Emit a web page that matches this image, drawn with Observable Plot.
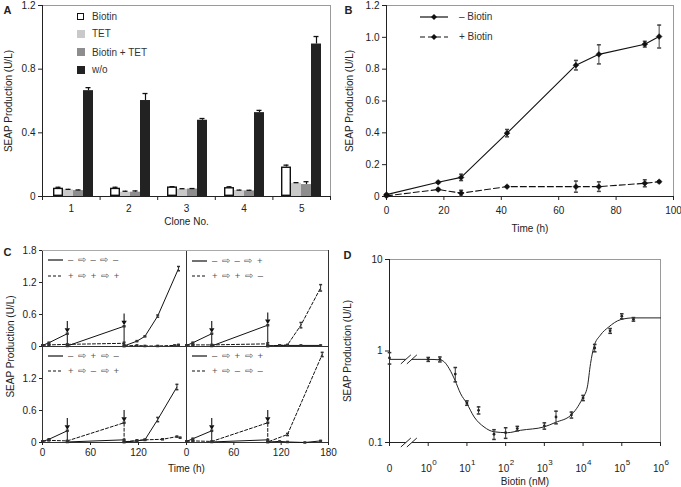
<!DOCTYPE html>
<html><head><meta charset="utf-8">
<script src="https://cdn.jsdelivr.net/npm/d3@7"></script>
<script src="https://cdn.jsdelivr.net/npm/@observablehq/plot@0.6"></script>
<style>
body{margin:0;background:#fff;}
#fig{position:relative;width:681px;height:487px;overflow:hidden;font-family:"Liberation Sans",Arial,Helvetica,sans-serif;font-size:10px;color:#222;background:#fff;}
.lg{position:absolute;white-space:pre;font-size:10px;line-height:12px;}
</style></head><body><div id="fig"></div><script>
// ================= DATA =================
// Panel A
const clones = ["1", "2", "3", "4", "5"];
const treatments = ["Biotin", "TET", "Biotin + TET", "w/o"];
const biotinVals = [0.052, 0.052, 0.060, 0.056, 0.185];
const biotinErr  = [0.006, 0.006, 0.002, 0.005, 0.012];
const tetVals    = [0.042, 0.027, 0.045, 0.037, 0.083];
const tetErr     = [0.003, 0.006, 0.004, 0.003, 0.004];
const bothVals   = [0.037, 0.027, 0.047, 0.035, 0.075];
const bothErr    = [0.004, 0.008, 0.003, 0.004, 0.018];
const woVals     = [0.665, 0.603, 0.479, 0.527, 0.958];
const woErr      = [0.019, 0.044, 0.011, 0.014, 0.047];
const yTicksA = [0, 0.4, 0.8, 1.2];

// Panel B
const timeB = [0, 18, 26, 42, 66, 74, 90, 95];
const minusBiotin    = [0.012, 0.089, 0.120, 0.398, 0.825, 0.893, 0.957, 1.005];
const minusBiotinErr = [0.004, 0.005, 0.020, 0.023, 0.030, 0.060, 0.018, 0.072];
const plusBiotin     = [0.004, 0.044, 0.021, 0.062, 0.062, 0.062, 0.083, 0.093];
const plusBiotinErr  = [0.004, 0.006, 0.018, 0.004, 0.035, 0.030, 0.022, 0.005];
const seriesB = ["– Biotin", "+ Biotin"];
const xTicksB = [0, 20, 40, 60, 80, 100];
const yTicksB = [0, 0.2, 0.4, 0.6, 0.8, 1.0, 1.2];

// Panel C (four switching schemes)
const xTicksC = [0, 60, 120, 180];
const yTicksC = [0, 0.6, 1.2, 1.8];
const tlSolidT = [0, 8, 31, 31, 102, 102, 118, 128, 144, 170];
const tlSolidV = [0.02, 0.07, 0.24, 0.01, 0.38, 0.01, 0.10, 0.19, 0.57, 1.46];
const tlSolidE = [0.01, 0.01, 0.01, 0.01, 0.01, 0.01, 0.01, 0.01, 0.02, 0.04];
const tlDashT  = [0, 8, 31, 102, 102, 118, 128, 144, 165, 170];
const tlDashV  = [0.02, 0.03, 0.04, 0.06, 0.01, 0.02, 0.01, 0.01, 0.02, 0.03];
const tlDashE  = [0.01, 0.01, 0.01, 0.02, 0.01, 0.01, 0.01, 0.01, 0.01, 0.01];
const trSolidT = [0, 8, 32, 32, 103, 103, 118, 128, 145, 170];
const trSolidV = [0.02, 0.07, 0.24, 0.01, 0.40, 0.01, 0.02, 0.02, 0.02, 0.02];
const trSolidE = [0.01, 0.01, 0.01, 0.01, 0.01, 0.01, 0.01, 0.01, 0.01, 0.01];
const trDashT  = [0, 8, 32, 103, 103, 118, 128, 145, 170];
const trDashV  = [0.02, 0.03, 0.03, 0.05, 0.01, 0.02, 0.03, 0.40, 1.10];
const trDashE  = [0.01, 0.01, 0.01, 0.02, 0.01, 0.01, 0.01, 0.05, 0.06];
const blSolidT = [0, 8, 31, 31, 102, 102, 118, 128, 144, 168];
const blSolidV = [0.02, 0.06, 0.22, 0.01, 0.05, 0.01, 0.03, 0.05, 0.43, 1.04];
const blSolidE = [0.01, 0.01, 0.01, 0.01, 0.01, 0.01, 0.01, 0.01, 0.04, 0.05];
const blDashT  = [0, 8, 31, 102, 102, 118, 128, 150, 168, 172];
const blDashV  = [0.02, 0.04, 0.03, 0.37, 0.01, 0.04, 0.05, 0.06, 0.11, 0.09];
const blDashE  = [0.01, 0.01, 0.01, 0.01, 0.01, 0.01, 0.01, 0.01, 0.01, 0.01];
const brSolidT = [0, 8, 32, 32, 103, 103, 118, 128, 150, 170];
const brSolidV = [0.02, 0.07, 0.22, 0.01, 0.05, 0.01, 0.02, 0.01, 0.00, 0.03];
const brSolidE = [0.01, 0.01, 0.01, 0.01, 0.01, 0.01, 0.01, 0.01, 0.01, 0.01];
const brDashT  = [0, 8, 32, 103, 103, 128, 172];
const brDashV  = [0.02, 0.03, 0.02, 0.37, 0.01, 0.15, 1.65];
const brDashE  = [0.01, 0.01, 0.01, 0.01, 0.01, 0.02, 0.04];
const arrowT_TL = [31, 102], arrowV_TL = [0.24, 0.38];
const arrowT_TR = [32, 103], arrowV_TR = [0.24, 0.40];
const arrowT_BL = [31, 102], arrowV_BL = [0.22, 0.37];
const arrowT_BR = [32, 103], arrowV_BR = [0.22, 0.37];
const legendC = {
  tl: ["– ⇨ – ⇨ –", "+ ⇨ + ⇨ +"],
  tr: ["– ⇨ – ⇨ +", "+ ⇨ + ⇨ –"],
  bl: ["– ⇨ + ⇨ –", "+ ⇨ – ⇨ +"],
  br: ["– ⇨ + ⇨ +", "+ ⇨ – ⇨ –"]
};

// Panel D
const biotinConc = [0, 1, 2, 5, 10, 20, 50, 100, 200, 1000, 2000, 5000, 10000, 20000, 50000, 100000, 200000];
const seapD      = [0.84, 0.81, 0.81, 0.56, 0.27, 0.225, 0.123, 0.128, 0.142, 0.152, 0.19, 0.20, 0.307, 1.08, 1.66, 2.40, 2.22];
const seapDErr   = [0.12, 0.04, 0.05, 0.10, 0.015, 0.02, 0.015, 0.017, 0.008, 0.012, 0.03, 0.015, 0.02, 0.10, 0.10, 0.15, 0.10];
const curveConc  = [0.1, 1, 2, 2.6, 3.5, 4.9, 6.9, 9.8, 15.4, 27.6, 50, 111, 245, 980, 1950, 4800, 9500, 12900, 15600, 19000, 28000, 46000, 93000, 200000, 1000000];
const curveSeap  = [0.81, 0.81, 0.80, 0.76, 0.64, 0.48, 0.34, 0.27, 0.19, 0.148, 0.131, 0.128, 0.136, 0.148, 0.166, 0.198, 0.30, 0.405, 0.73, 1.11, 1.49, 1.83, 2.2, 2.3, 2.3];
const xTicksD = [0.1, 1, 10, 100, 1e3, 1e4, 1e5, 1e6];
const xTickBaseD = ["0", "10", "10", "10", "10", "10", "10", "10"];
const xTickExpD  = ["", "0", "1", "2", "3", "4", "5", "6"];
const yTicksD = [0.1, 1, 10];
const yTickLabelsD = ["0.1", "1", "10"];

const yLabel = "SEAP Production (U/L)";

// ================= STYLE / HELPERS =================
const FONT = '"Liberation Sans", Arial, Helvetica, sans-serif';
const fig = document.getElementById("fig");
const baseStyle = {fontFamily: FONT, fontSize: "10px", color: "#222", background: "transparent", overflow: "visible"};
const colorsA = ["#ffffff", "#c9c9c9", "#8d8d8d", "#222222"];
const fmt1 = d => d === 0 ? "0" : d.toFixed(1);
function mount(el, left, top) {
  el.style.position = "absolute"; el.style.left = left + "px"; el.style.top = top + "px";
  fig.appendChild(el); return el;
}
function html(str, left, top, extra = "") {
  const d = document.createElement("div");
  d.className = "lg"; d.style.left = left + "px"; d.style.top = top + "px";
  d.style.cssText += extra; d.innerHTML = str; fig.appendChild(d); return d;
}
const capSym = w => ({draw(ctx) { ctx.moveTo(-w, 0); ctx.lineTo(w, 0); }});
const breakFill = {draw(ctx) { ctx.moveTo(-8, 4.5); ctx.lineTo(2, -4.5); ctx.lineTo(8, -4.5); ctx.lineTo(-2, 4.5); ctx.closePath(); }};
const breakLines = {draw(ctx) { ctx.moveTo(-8, 4.5); ctx.lineTo(2, -4.5); ctx.moveTo(-2, 4.5); ctx.lineTo(8, -4.5); }};
const label = (txt, opts) => Plot.text([txt], {text: d => d, fontFamily: FONT, fontSize: 10, fill: "#222", textAnchor: "middle", lineAnchor: "middle", ...opts});
const letter = (txt, opts) => label(txt, {frameAnchor: "top-left", textAnchor: "start", fontWeight: "bold", fontSize: 11, ...opts});

// ================= PANEL A =================
const valuesA = [biotinVals, tetVals, bothVals, woVals];
const errorsA = [biotinErr, tetErr, bothErr, woErr];
const rowsA = [];
clones.forEach((c, i) => treatments.forEach((t, k) => rowsA.push({clone: c, treatment: t, value: valuesA[k][i], err: errorsA[k][i]})));
const boxA = {width: 340, height: 232, marginLeft: 42, marginRight: 10, marginTop: 5, marginBottom: 36};

mount(Plot.plot({...boxA, style: baseStyle,
  fx: {domain: clones, padding: 0, axis: null},
  x: {domain: treatments, paddingInner: 0, paddingOuter: 2 / 3, axis: null},
  y: {domain: [0, 1.2], axis: null},
  color: {domain: treatments, range: colorsA},
  marks: [
    Plot.barY(rowsA, {fx: "clone", x: "treatment", y: "value", fill: "treatment"}),
    Plot.barY(rowsA.filter(d => d.treatment === treatments[0]), {fx: "clone", x: "treatment", y: "value", fill: "none", stroke: "#111", strokeWidth: 1.4, inset: 0.7}),
    Plot.ruleX(rowsA, {fx: "clone", x: "treatment", y1: "value", y2: d => d.value + d.err, stroke: "#111", strokeWidth: 1.2}),
    Plot.tickY(rowsA, {fx: "clone", x: "treatment", y: d => d.value + d.err, stroke: "#111", strokeWidth: 1.3, insetLeft: 2.5, insetRight: 2.5})
  ]
}), 0, 0);

mount(Plot.plot({...boxA, style: baseStyle,
  x: {domain: [0.5, clones.length + 0.5]},
  y: {domain: [0, 1.2]},
  marks: [
    Plot.frame({stroke: "#9a9a9a"}),
    Plot.axisY({ticks: yTicksA, tickSize: 4, tickPadding: 3, tickFormat: fmt1, label: null}),
    Plot.axisX({ticks: d3.range(0.5, clones.length + 1, 1), tickSize: 4, tickFormat: () => "", label: null}),
    Plot.axisX({ticks: clones.map((c, i) => i + 1), tickSize: 0, tickPadding: 8, tickFormat: d => clones[d - 1], label: null}),
    Plot.ruleX([0.5], {stroke: "#222"}),
    Plot.ruleY([0], {stroke: "#222"}),
    label(yLabel, {frameAnchor: "left", rotate: -90, dx: -34}),
    label("Clone No.", {frameAnchor: "bottom", dy: 25}),
    letter("A", {dx: -39, dy: 5})
  ]
}), 0, 0);

// legend A
const legYA = [17.3, 34.3, 52.7, 70.3];
treatments.forEach((t, k) => {
  const border = k === 0 ? "1.3px solid #111" : "none";
  html(`<span style="display:inline-block;width:${k === 0 ? 5.4 : 8}px;height:${k === 0 ? 5.4 : 8}px;background:${colorsA[k]};border:${border};"></span>`, 77, legYA[k] - 4.5, "line-height:8px;");
  html(t, 92, legYA[k] - 6, "color:#333;");
});

// ================= PANEL B =================
const rowsB = timeB.flatMap((t, i) => [
  {series: seriesB[0], t, v: minusBiotin[i], e: minusBiotinErr[i]},
  {series: seriesB[1], t, v: plusBiotin[i], e: plusBiotinErr[i]}
]);
mount(Plot.plot({width: 341, height: 232, marginLeft: 46, marginRight: 8, marginTop: 5, marginBottom: 36, style: baseStyle,
  x: {domain: [0, 100]},
  y: {domain: [0, 1.2]},
  marks: [
    Plot.frame({stroke: "#9a9a9a"}),
    Plot.axisY({ticks: yTicksB, tickSize: 4, tickPadding: 3, tickFormat: fmt1, label: null}),
    Plot.axisX({ticks: xTicksB, tickSize: 4, tickPadding: 6, tickFormat: d => String(d), label: null}),
    Plot.ruleX([0], {stroke: "#222"}),
    Plot.ruleY([0], {stroke: "#222"}),
    Plot.line(rowsB.filter(d => d.series === seriesB[0]), {x: "t", y: "v", stroke: "#111", strokeWidth: 1.1}),
    Plot.line(rowsB.filter(d => d.series === seriesB[1]), {x: "t", y: "v", stroke: "#111", strokeWidth: 1.1, strokeDasharray: "6,3"}),
    Plot.ruleX(rowsB, {x: "t", y1: d => d.v - d.e, y2: d => d.v + d.e, stroke: "#444"}),
    Plot.dot(rowsB, {x: "t", y: d => d.v + d.e, symbol: capSym(2), stroke: "#444", fill: "none"}),
    Plot.dot(rowsB, {x: "t", y: d => d.v - d.e, symbol: capSym(2), stroke: "#444", fill: "none"}),
    Plot.dot(rowsB, {x: "t", y: "v", symbol: "diamond2", r: 2.6, fill: "#111", stroke: "#111", strokeWidth: 0.5}),
    label(yLabel, {frameAnchor: "left", rotate: -90, dx: -37}),
    label("Time (h)", {frameAnchor: "bottom", dy: 32}),
    letter("B", {dx: -42, dy: 5})
  ]
}), 340, 0);

// legend B
const legYB = [16.7, 36.7];
seriesB.forEach((s, k) => {
  html(`<svg width="30" height="8" style="display:block"><line x1="1" y1="4" x2="29" y2="4" stroke="#111" stroke-width="1.2" ${k ? 'stroke-dasharray="5,3"' : ""}/><path d="M15,1L18,4L15,7L12,4Z" fill="#111"/></svg>`, 419, legYB[k] - 4, "line-height:8px;");
  html(s, 459, legYB[k] - 6, "color:#333;");
});

// ================= PANEL C =================
const toRows = (T, V, E) => T.map((t, i) => ({t, v: V[i], e: E[i]}));
function panelC(cfg) {
  const {solid, dash, arrowT, arrowV, left, top, width, height, ml, mr, mt, mb, yTicks, xTicks, isTop, extra = []} = cfg;
  const arrows = arrowT.map((t, i) => ({t, v: arrowV[i]}));
  const all = solid.concat(dash);
  const marks = [
    Plot.ruleX([0], {stroke: "#333"}),
    Plot.ruleX([180], {stroke: "#333"}),
    Plot.ruleY([0], {stroke: "#333"}),
    Plot.ruleY([1.8], {stroke: isTop ? "#aaa" : "#333"}),
    Plot.line(solid, {x: "t", y: "v", stroke: "#111", strokeWidth: 1}),
    Plot.line(dash, {x: "t", y: "v", stroke: "#111", strokeWidth: 1, strokeDasharray: "3,2"}),
    Plot.ruleX(all, {x: "t", y1: d => d.v - d.e, y2: d => d.v + d.e, stroke: "#333"}),
    Plot.dot(all, {x: "t", y: d => d.v + d.e, symbol: capSym(1.5), stroke: "#333", fill: "none"}),
    Plot.dot(all, {x: "t", y: d => d.v - d.e, symbol: capSym(1.5), stroke: "#333", fill: "none"}),
    Plot.ruleX(arrows, {x: "t", y1: d => d.v + 0.09, y2: d => d.v + 0.23, stroke: "#111", strokeWidth: 1.1}),
    Plot.dot(arrows, {x: "t", y: d => d.v + 0.075, symbol: "triangle", rotate: 180, r: 2, fill: "#111", stroke: "none"}),
    ...extra
  ];
  if (yTicks) marks.push(Plot.axisY({ticks: yTicks, tickSize: 3, tickPadding: 3, tickFormat: fmt1, label: null}));
  if (xTicks) marks.push(Plot.axisX({ticks: xTicks, tickSize: 3, tickPadding: 3, tickFormat: d => String(d), label: null}));
  mount(Plot.plot({width, height, marginLeft: ml, marginRight: mr, marginTop: mt, marginBottom: mb, style: baseStyle,
    x: {domain: [0, 180], ...(xTicks ? {} : {axis: null})},
    y: {domain: [0, 1.8], ...(yTicks ? {} : {axis: null})},
    marks
  }), left, top);
}
panelC({solid: toRows(tlSolidT, tlSolidV, tlSolidE), dash: toRows(tlDashT, tlDashV, tlDashE), arrowT: arrowT_TL, arrowV: arrowV_TL,
  left: 0, top: 240, width: 190, height: 110, ml: 42, mr: 4, mt: 10, mb: 4, yTicks: yTicksC, xTicks: null, isTop: true,
  extra: [letter("C", {dx: -39, dy: 2})]});
panelC({solid: toRows(trSolidT, trSolidV, trSolidE), dash: toRows(trDashT, trDashV, trDashE), arrowT: arrowT_TR, arrowV: arrowV_TR,
  left: 182, top: 240, width: 150, height: 110, ml: 4, mr: 4, mt: 10, mb: 4, yTicks: null, xTicks: null, isTop: true});
panelC({solid: toRows(blSolidT, blSolidV, blSolidE), dash: toRows(blDashT, blDashV, blDashE), arrowT: arrowT_BL, arrowV: arrowV_BL,
  left: 0, top: 336, width: 190, height: 146, ml: 42, mr: 4, mt: 10, mb: 40, yTicks: yTicksC.slice(0, 3), xTicks: xTicksC.slice(0, 3), isTop: false,
  extra: [label(yLabel, {frameAnchor: "top-left", rotate: -90, dx: -32}),
          label("Time (h)", {frameAnchor: "bottom-right", dy: 26})]});
panelC({solid: toRows(brSolidT, brSolidV, brSolidE), dash: toRows(brDashT, brDashV, brDashE), arrowT: arrowT_BR, arrowV: arrowV_BR,
  left: 182, top: 336, width: 150, height: 146, ml: 4, mr: 4, mt: 10, mb: 40, yTicks: null, xTicks: xTicksC, isTop: false});

// legends C
const legPosC = {tl: [48, 260, 275.7], tr: [192, 260.5, 275.5], bl: [48, 356, 370.7], br: [192, 356, 370.7]};
Object.keys(legendC).forEach(key => {
  const [x, y1, y2] = legPosC[key];
  legendC[key].forEach((txt, k) => {
    const y = k ? y2 : y1;
    html(`<svg width="16" height="4" style="display:block"><line x1="0" y1="2" x2="15" y2="2" stroke="#111" stroke-width="1.2" ${k ? 'stroke-dasharray="3,2"' : ""}/></svg>`, x, y - 2, "line-height:4px;");
    html(txt, x + 20, y - 6, "color:#555;font-size:9.5px;word-spacing:2px;");
  });
});

// ================= PANEL D =================
const zeroPos = xTicksD[0];
const rowsD = biotinConc.map((c, i) => ({c: c === 0 ? zeroPos : c, v: seapD[i], e: seapDErr[i]}));
const curveD = curveConc.map((c, i) => ({c, v: curveSeap[i]}));
const breakX = Math.sqrt(zeroPos * xTicksD[1]);
const breaksD = [{c: breakX, v: curveSeap[0]}, {c: breakX, v: yTicksD[0]}];
const tickRowsD = xTicksD.map((t, i) => ({t, base: xTickBaseD[i], exp: xTickExpD[i]}));
const tickTextD = {x: "t", frameAnchor: "bottom", lineAnchor: "middle", fontFamily: FONT, fill: "#222"};
mount(Plot.plot({width: 341, height: 247, marginLeft: 49, marginRight: 21, marginTop: 19, marginBottom: 45, style: baseStyle,
  x: {type: "log", domain: [0.1, 1e6]},
  y: {type: "log", domain: [0.1, 10]},
  marks: [
    Plot.frame({stroke: "#9a9a9a"}),
    Plot.ruleX([0.1], {stroke: "#222"}),
    Plot.ruleY([0.1], {stroke: "#222"}),
    Plot.axisY({ticks: yTicksD, tickSize: 4, tickPadding: 3, tickFormat: d => yTickLabelsD[yTicksD.indexOf(d)], label: null}),
    Plot.axisX({ticks: xTicksD, tickSize: 4, tickFormat: () => "", label: null}),
    Plot.text(tickRowsD.filter(d => !d.exp), {...tickTextD, text: "base", dy: 26, textAnchor: "middle", fontSize: 10}),
    Plot.text(tickRowsD.filter(d => d.exp), {...tickTextD, text: "base", dy: 26, dx: -2, textAnchor: "middle", fontSize: 10}),
    Plot.text(tickRowsD.filter(d => d.exp), {...tickTextD, text: "exp", dy: 20, dx: 4, textAnchor: "start", fontSize: 8}),
    Plot.line(curveD, {x: "c", y: "v", curve: "monotone-x", stroke: "#222", strokeWidth: 1}),
    Plot.ruleX(rowsD, {x: "c", y1: d => d.v - d.e, y2: d => d.v + d.e, stroke: "#333"}),
    Plot.dot(rowsD, {x: "c", y: d => d.v + d.e, symbol: capSym(1.8), stroke: "#333", fill: "none"}),
    Plot.dot(rowsD, {x: "c", y: d => d.v - d.e, symbol: capSym(1.8), stroke: "#333", fill: "none"}),
    Plot.dot(rowsD, {x: "c", y: "v", r: 1.4, fill: "#222", stroke: "none"}),
    Plot.dot(breaksD, {x: "c", y: "v", symbol: breakFill, fill: "white", stroke: "none"}),
    Plot.dot(breaksD, {x: "c", y: "v", symbol: breakLines, fill: "none", stroke: "#222", strokeWidth: 1}),
    label(yLabel, {frameAnchor: "left", rotate: -90, dx: -42}),
    label("Biotin (nM)", {frameAnchor: "bottom", dy: 39}),
    letter("D", {dx: -46, dy: -4})
  ]
}), 340, 240);
</script></body></html>
